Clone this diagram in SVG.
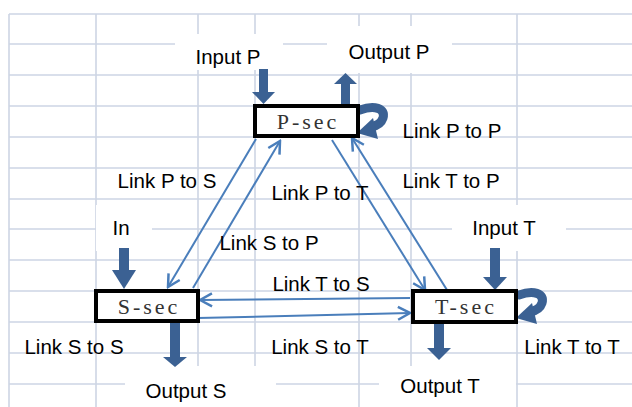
<svg xmlns="http://www.w3.org/2000/svg" width="632" height="407" viewBox="0 0 632 407">
<style>
.grid line{stroke:#cdd5e4;stroke-width:1.6}
.mask{fill:#fff}
.lbl{font-family:"Liberation Sans",Arial,sans-serif;font-size:20.5px;fill:#000;text-anchor:middle}
.box{fill:#fff;stroke:#000;stroke-width:4}
.name{font-family:"Liberation Serif","Times New Roman",serif;font-size:22px;fill:#333;text-anchor:middle;letter-spacing:3px}
.thin{stroke:#4a7ebb;stroke-width:2;fill:none;marker-end:url(#open)}
.thick{fill:#3b6193}
.loop{stroke:#3b6193;stroke-width:9;fill:none;stroke-linecap:round}
</style>
<defs>
<marker id="open" viewBox="-14 -8 16 16" markerWidth="16" markerHeight="16" refX="0" refY="0" orient="auto" markerUnits="userSpaceOnUse">
<path d="M-12,-6.5 L0,0 L-12,6.5" fill="none" stroke="#4a7ebb" stroke-width="2.5"/>
</marker>
</defs>
<rect width="632" height="407" fill="#fff"/>
<g class="grid">
<line x1="9" y1="14" x2="632" y2="14"/>
<line x1="9" y1="44" x2="632" y2="44"/>
<line x1="9" y1="75" x2="632" y2="75"/>
<line x1="9" y1="106" x2="632" y2="106"/>
<line x1="9" y1="137" x2="632" y2="137"/>
<line x1="9" y1="168" x2="632" y2="168"/>
<line x1="9" y1="199" x2="632" y2="199"/>
<line x1="9" y1="229" x2="632" y2="229"/>
<line x1="9" y1="260" x2="632" y2="260"/>
<line x1="9" y1="291" x2="632" y2="291"/>
<line x1="9" y1="322" x2="632" y2="322"/>
<line x1="9" y1="353" x2="632" y2="353"/>
<line x1="9" y1="384" x2="632" y2="384"/>
<line x1="9" y1="14" x2="9" y2="407"/>
<line x1="96" y1="14" x2="96" y2="407"/>
<line x1="198" y1="14" x2="198" y2="407"/>
<line x1="255" y1="14" x2="255" y2="407"/>
<line x1="359" y1="14" x2="359" y2="407"/>
<line x1="411" y1="14" x2="411" y2="407"/>
<line x1="517" y1="14" x2="517" y2="407"/>
</g>
<g id="label-masks">
<rect class="mask" x="175" y="34" width="108" height="36"/>
<rect class="mask" x="327" y="26" width="125" height="47"/>
<rect class="mask" x="96" y="205" width="56" height="46"/>
<rect class="mask" x="452" y="205" width="114" height="46"/>
<rect class="mask" x="125" y="366" width="151" height="41"/>
<rect class="mask" x="379" y="366" width="137" height="41"/>
</g>
<g id="connectors">
<path class="thin" d="M256,139 L168,287"/>
<path class="thin" d="M193,288 L280,141"/>
<path class="thin" d="M332,140 L425,290"/>
<path class="thin" d="M447,290 L352,138"/>
<path class="thin" d="M410,298 L200,300"/>
<path class="thin" d="M198,318 L410,313"/>
<g id="input-p"><rect class="thick" x="259" y="69" width="9" height="24"/><polygon class="thick" points="252,92 275,92 263.5,104"/></g>
<g id="output-p"><rect class="thick" x="341" y="82" width="9" height="26"/><polygon class="thick" points="334,84 357,84 345.5,73"/></g>
<g id="in-s"><rect class="thick" x="119" y="248" width="10" height="23"/><polygon class="thick" points="112,270 136,270 124,289"/></g>
<g id="input-t"><rect class="thick" x="490" y="248" width="10" height="30"/><polygon class="thick" points="483,277 507,277 495,290"/></g>
<g id="output-s"><rect class="thick" x="170" y="322" width="10" height="36"/><polygon class="thick" points="163,357 187,357 175,367"/></g>
<g id="output-t"><rect class="thick" x="434" y="322" width="10" height="27"/><polygon class="thick" points="427,348 451,348 439,360"/></g>
<g id="loop-p"><path class="loop" d="M360,110 C374,105 386,108 383,118 C381,124 376,126 371,127"/><polygon class="thick" points="357,133 373,118 378,139"/></g>
<g id="loop-t"><path class="loop" d="M519,295 C533,290 545,293 542,303 C540,309 535,311 530,312"/><polygon class="thick" points="516,318 532,303 537,324"/></g>
</g>
<g id="P-sec"><rect class="box" x="255" y="106" width="103" height="30"/><text class="name" x="308" y="129">P-sec</text></g>
<g id="S-sec"><rect class="box" x="96" y="291" width="102" height="30"/><text class="name" x="149" y="314">S-sec</text></g>
<g id="T-sec"><rect class="box" x="413" y="291" width="103" height="31"/><text class="name" x="466" y="314">T-sec</text></g>
<g id="labels">
<text class="lbl" x="228" y="64">Input P</text>
<text class="lbl" x="389" y="59">Output P</text>
<text class="lbl" x="452" y="138">Link P to P</text>
<text class="lbl" x="167" y="188">Link P to S</text>
<text class="lbl" x="320" y="200">Link P to T</text>
<text class="lbl" x="451" y="188">Link T to P</text>
<text class="lbl" x="121" y="235">In</text>
<text class="lbl" x="269" y="250">Link S to P</text>
<text class="lbl" x="504" y="235">Input T</text>
<text class="lbl" x="321" y="291">Link T to S</text>
<text class="lbl" x="74" y="354">Link S to S</text>
<text class="lbl" x="320" y="354">Link S to T</text>
<text class="lbl" x="572" y="354">Link T to T</text>
<text class="lbl" x="186" y="398">Output S</text>
<text class="lbl" x="440" y="393">Output T</text>
</g>
</svg>
